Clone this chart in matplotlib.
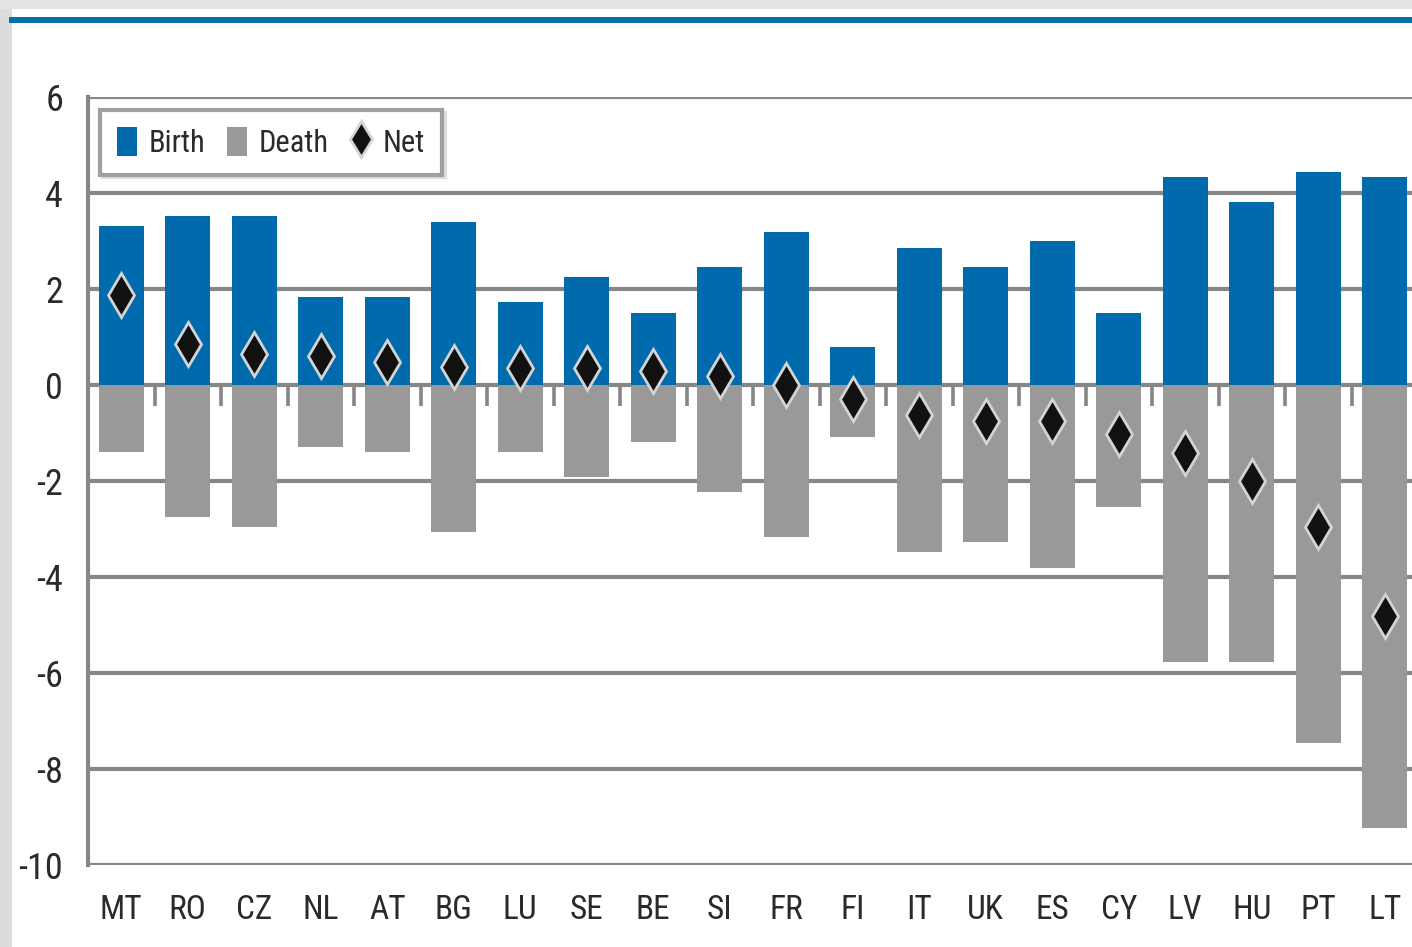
import matplotlib
matplotlib.use("Agg")
import matplotlib.pyplot as plt
from matplotlib import font_manager
import numpy as np
from matplotlib.patches import Rectangle
from matplotlib.lines import Line2D

countries = ["MT", "RO", "CZ", "NL", "AT", "BG", "LU", "SE", "BE", "SI",
             "FR", "FI", "IT", "UK", "ES", "CY", "LV", "HU", "PT", "LT"]
birth = [3.32, 3.53, 3.53, 1.83, 1.83, 3.40, 1.72, 2.24, 1.51, 2.45,
         3.19, 0.79, 2.86, 2.45, 2.99, 1.51, 4.34, 3.82, 4.44, 4.34]
death = [-1.40, -2.75, -2.96, -1.30, -1.40, -3.06, -1.39, -1.91, -1.18, -2.22,
         -3.17, -1.09, -3.48, -3.27, -3.81, -2.55, -5.78, -5.78, -7.46, -9.22]
net = [1.88, 0.85, 0.64, 0.60, 0.48, 0.37, 0.35, 0.35, 0.29, 0.19,
       0.01, -0.29, -0.62, -0.75, -0.75, -1.02, -1.42, -1.99, -2.96, -4.81]
yticks = [6, 4, 2, 0, -2, -4, -6, -8, -10]

available = {f.name for f in font_manager.fontManager.ttflist}
narrow = None
for cand in ['Liberation Sans Narrow', 'DejaVu Sans Condensed', 'Roboto Condensed',
             'Open Sans Condensed', 'Noto Sans Condensed', 'Arial Narrow']:
    if cand in available:
        narrow = cand
        break
FONT = ([narrow] if narrow else []) + ['DejaVu Sans']
plt.rcParams['font.family'] = FONT
if narrow is None:
    plt.rcParams['font.stretch'] = 'condensed'

BLUE = '#006bac'
GREY = '#999999'
GRID = '#868686'
TXT = '#2a2a2a'

W, H = 1412, 947
fig = plt.figure(figsize=(W / 100, H / 100), dpi=100)

# background decoration
fig.patches.append(Rectangle((0, 0), 12 / W, 1, transform=fig.transFigure,
                             facecolor='#dcdcdc', edgecolor='none', zorder=0))
fig.patches.append(Rectangle((0, 1 - 9 / H), 1, 9 / H, transform=fig.transFigure,
                             facecolor='#e4e4e4', edgecolor='none', zorder=0))
fig.lines.append(Line2D([12 / W, 1], [1 - 20.5 / H, 1 - 20.5 / H],
                        transform=fig.transFigure, color='#0070b0', lw=4.3))

left, right = 88 / W, 1418 / W
top, bottom = 1 - 97 / H, 1 - 865 / H
ax = fig.add_axes([left, bottom, right - left, top - bottom])

x = np.arange(len(countries))
hb = ax.bar(x, birth, width=0.68, color=BLUE, zorder=3, label='Birth')
hd = ax.bar(x, death, width=0.68, color=GREY, zorder=3, label='Death')
hn, = ax.plot(x, net, linestyle='none', marker='d', markersize=22,
              markerfacecolor='#111111', markeredgecolor='#d4d4d4',
              markeredgewidth=2, zorder=5, label='Net')

ax.set_xlim(-0.5, len(countries) - 0.5)
ax.set_ylim(-10, 6)
ax.set_yticks(yticks)
ax.set_yticklabels([str(v) for v in yticks])
ax.yaxis.grid(True, color=GRID, linewidth=3, zorder=0)
ax.set_axisbelow(True)
ax.set_xticks(x)
ax.set_xticklabels(countries)
ax.tick_params(axis='x', length=0, pad=21, labelsize=24, labelcolor=TXT)
ax.tick_params(axis='y', length=0, pad=18, labelsize=26, labelcolor=TXT)

for s in ['top', 'right', 'bottom']:
    ax.spines[s].set_visible(False)
ax.spines['left'].set_color(GRID)
ax.spines['left'].set_linewidth(3)

# tick marks at category boundaries on the zero line
zero_pos = (0 - (-10)) / (6 - (-10))
sec = ax.secondary_xaxis(zero_pos)
bounds = np.arange(0.5, len(countries) - 0.5, 1.0)
sec.set_xticks(bounds)
sec.set_xticklabels([''] * len(bounds))
sec.xaxis.set_ticks_position('bottom')
sec.tick_params(axis='x', direction='out', length=15, width=2.6,
                color=GRID, labelbottom=False, labeltop=False)
sec.spines['bottom'].set_visible(False)
sec.spines['top'].set_visible(False)

leg = ax.legend(handles=[hb, hd, hn], labels=['Birth', 'Death', 'Net'],
                loc='upper left',
                bbox_to_anchor=(12 / ((right - left) * W), 1 - 13 / ((top - bottom) * H)),
                ncol=3, frameon=True, fancybox=False, fontsize=22,
                handlelength=0.65, handleheight=1.1, handletextpad=0.4,
                columnspacing=0.7, borderpad=0.55, borderaxespad=0,
                markerscale=0.85,
                shadow={'color': '#dedede', 'alpha': 1})
leg.get_frame().set_edgecolor('#a0a0a0')
leg.get_frame().set_linewidth(3)
for t in leg.get_texts():
    t.set_color(TXT)
leg.set_zorder(10)

fig.savefig('out.png', dpi=100)
